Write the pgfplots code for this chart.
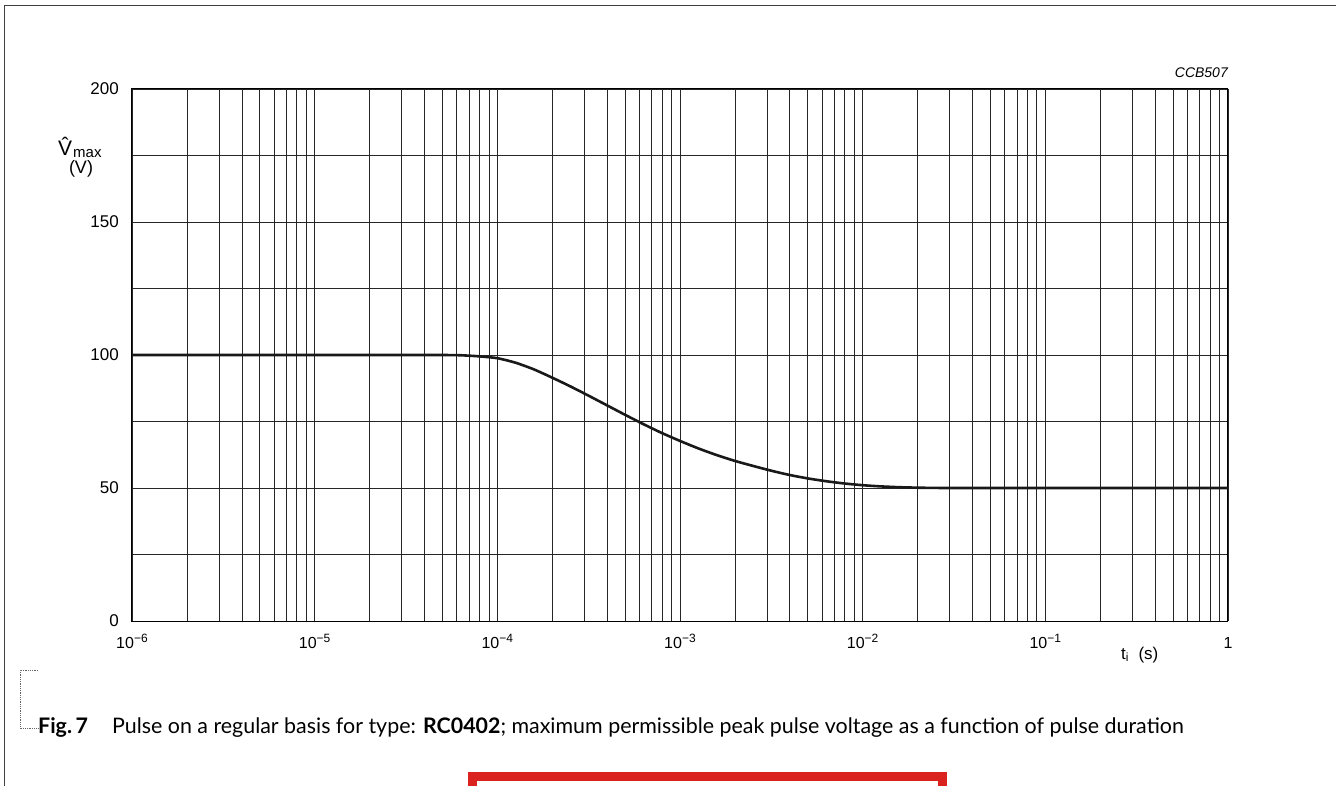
\documentclass[border=0pt]{standalone}
\usepackage{fontspec}
\setmainfont{Liberation Sans}
\newfontfamily\capfont{Lato}
\usepackage{pgfplots}
\pgfplotsset{compat=1.18}
\definecolor{boxred}{RGB}{218,34,30}
\newcommand\dec[1]{10\raisebox{6pt}{\fontsize{12}{12}\selectfont #1}}
\begin{document}
\begin{tikzpicture}
\path[use as bounding box] (0pt,0pt) rectangle (1336pt,-786pt);
\draw[line width=1pt, black!75] (4pt,-790pt) -- (4pt,-6pt) -- (1340pt,-6pt);
\begin{axis}[
  at={(132pt,-621pt)}, anchor=south west,
  scale only axis, width=1096pt, height=532pt,
  xmode=log, log basis x=10,
  xmin=1e-6, xmax=1, ymin=0, ymax=200,
  xtick={1e-6,1e-5,1e-4,1e-3,1e-2,1e-1,1},
  xticklabels={\dec{−6},\dec{−5},\dec{−4},\dec{−3},\dec{−2},\dec{−1},1},
  minor xtick={2e-6,3e-6,4e-6,5e-6,6e-6,7e-6,8e-6,9e-6,
               2e-5,3e-5,4e-5,5e-5,6e-5,7e-5,8e-5,9e-5,
               2e-4,3e-4,4e-4,5e-4,6e-4,7e-4,8e-4,9e-4,
               2e-3,3e-3,4e-3,5e-3,6e-3,7e-3,8e-3,9e-3,
               2e-2,3e-2,4e-2,5e-2,6e-2,7e-2,8e-2,9e-2,
               2e-1,3e-1,4e-1,5e-1,6e-1,7e-1,8e-1,9e-1},
  ytick={0,50,100,150,200},
  minor ytick={25,75,125,175},
  xmajorgrids=true, xminorgrids=true, ymajorgrids=true, yminorgrids=true,
  major grid style={black!85, line width=0.9pt},
  minor grid style={black!85, line width=0.9pt},
  major tick length=0pt, minor tick length=0pt,
  axis line style={black, line width=1pt},
  /pgf/number format/assume math mode=true,
  xticklabel style={font=\fontsize{16}{16}\selectfont, anchor=base, inner sep=0pt, yshift=-27pt},
  yticklabel style={font=\fontsize{17}{17}\selectfont, anchor=east, inner sep=0pt, xshift=-13pt},
  clip=false,
]
\addplot[line width=2.6pt, black!90, smooth, tension=0.4] coordinates {
 (1e-6,100) (1e-5,100) (3.981e-5,100) (5.012e-5,100) (6.310e-5,99.9) (7.943e-5,99.5)
 (1e-4,98.8) (1.259e-4,97.1) (1.585e-4,94.6) (1.995e-4,91.5) (2.512e-4,88.2)
 (3.162e-4,84.7) (3.981e-4,81.1) (5.012e-4,77.5) (6.310e-4,74.0) (7.943e-4,70.7)
 (1e-3,67.7) (1.259e-3,64.9) (1.585e-3,62.4) (1.995e-3,60.2) (2.512e-3,58.3)
 (3.162e-3,56.5) (3.981e-3,54.9) (5.012e-3,53.6) (6.310e-3,52.55) (7.943e-3,51.7)
 (1e-2,51.05) (1.259e-2,50.6) (1.585e-2,50.3) (1.995e-2,50.12) (2.512e-2,50.03)
 (3.162e-2,50) (1e-1,50) (1,50)
};
\end{axis}
\node[anchor=base west, inner sep=0pt, font=\fontsize{21}{21}\selectfont] at (58pt,-156pt) {\^{V}};
\node[anchor=base west, inner sep=0pt, font=\fontsize{15}{15}\selectfont] at (73pt,-157.5pt) {max};
\node[anchor=base, inner sep=0pt, font=\fontsize{18}{18}\selectfont] at (81pt,-174pt) {(V)};
\node[anchor=base west, inner sep=0pt, font=\fontsize{17}{17}\selectfont] at (1121pt,-659pt) {t\textsubscript{i}\ \ (s)};
\node[anchor=base east, inner sep=0pt, font=\fontsize{14}{14}\selectfont\itshape] at (1228pt,-78pt) {CCB507};
\draw[densely dotted, black!60, line width=0.8pt] (38pt,-670pt) -- (20pt,-670pt) -- (20pt,-728pt) -- (38pt,-728pt);
\node[anchor=base west, inner sep=0pt, font=\capfont\fontsize{21.4}{21.4}\selectfont] at (38pt,-733pt)
 {\textbf{Fig.\,7}\hspace{24pt}Pulse on a regular basis for type: \textbf{RC0402}; maximum permissible peak pulse voltage as a function of pulse duration};
\draw[line width=9pt, boxred] (472.5pt,-776.5pt) rectangle (942.5pt,-810pt);
\end{tikzpicture}
\end{document}
